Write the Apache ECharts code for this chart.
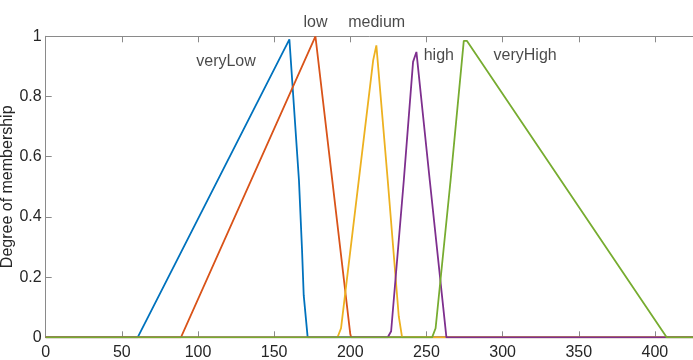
<!DOCTYPE html>
<html>
<head>
<meta charset="utf-8">
<script src="https://cdn.jsdelivr.net/npm/echarts@6/dist/echarts.min.js"></script>
<style>
  html, body { margin: 0; padding: 0; background: #fff; }
  #chart { width: 693px; height: 360px; }
</style>
</head>
<body>
<div id="chart"></div>
<script>
// Membership functions: vertices of each sampled curve (input value, degree)
const veryLowX = [0, 60.4, 160, 166.3, 168.3, 169.4, 172, 430];
const veryLowY = [0, 0, 0.99, 0.52, 0.29, 0.14, 0, 0];

const lowX = [0, 88.8, 177.1, 200, 200.6, 430];
const lowY = [0, 0, 1.0, 0.01, 0, 0];

const mediumX = [0, 191.6, 193.9, 215, 217.1, 224.6, 231.8, 234, 430];
const mediumY = [0, 0, 0.03, 0.92, 0.97, 0.52, 0.07, 0, 0];

const highX = [0, 224.6, 226.8, 235.1, 241.2, 243.4, 252.2, 263.1, 430];
const highY = [0, 0, 0.02, 0.52, 0.915, 0.948, 0.52, 0, 0];

const veryHighX = [0, 253.7, 256, 265.8, 274.5, 276.5, 407.7, 430];
const veryHighY = [0, 0, 0.03, 0.52, 0.985, 0.985, 0, 0];

// Curve names, written next to each curve
const mfNames = ['veryLow', 'low', 'medium', 'high', 'veryHigh'];
const mfLabelX = [118.4, 177.1, 217.3, 258.1, 314.8];
const mfLabelY = [0.915, 1.044, 1.044, 0.935, 0.935];

// Axis ranges and tick steps (the visible window ends at 425)
const xMin = 0, xMax = 425, xStep = 50;
const yMin = 0, yMax = 1, yStep = 0.2;
const yTitle = 'Degree of membership';

const colors = ['#0072BD', '#D95319', '#EDB120', '#7E2F8E', '#77AC30'];
const curves = [
  [veryLowX, veryLowY],
  [lowX, lowY],
  [mediumX, mediumY],
  [highX, highY],
  [veryHighX, veryHighY]
];

const axisGray = '#8a8a8a';
const textDark = '#262626';
const font = 'Liberation Sans, Arial, Helvetica, sans-serif';

const pair = (xs, ys) => xs.map((x, i) => [x, ys[i]]);

const lineSeries = curves.map((c, i) => ({
  name: mfNames[i],
  type: 'line',
  data: pair(c[0], c[1]),
  showSymbol: false,
  symbol: 'none',
  smooth: false,
  lineStyle: { color: colors[i], width: 1.8 },
  itemStyle: { color: colors[i] },
  silent: true,
  clip: true,
  z: 2 + i
}));

const labelSeries = {
  type: 'scatter',
  data: mfNames.map((n, i) => ({ value: [mfLabelX[i], mfLabelY[i]], name: n })),
  symbolSize: 1,
  itemStyle: { color: 'rgba(0,0,0,0)' },
  clip: false,
  silent: true,
  z: 10,
  label: {
    show: true,
    position: 'inside',
    formatter: p => p.name,
    color: '#1a1a1a',
    fontSize: 16,
    fontFamily: font
  }
};

const tickCommon = {
  show: true,
  inside: true,
  length: 6,
  lineStyle: { color: axisGray, width: 1 }
};
const lineCommon = { show: true, onZero: false, lineStyle: { color: axisGray, width: 1 } };

const chart = echarts.init(document.getElementById('chart'), null, { renderer: 'canvas' });
chart.setOption({
  animation: false,
  backgroundColor: '#ffffff',
  grid: {
    left: 45.7, right: 0, top: 36.3, bottom: 22.7,
    containLabel: false, outerBoundsMode: 'none'
  },
  xAxis: [
    {
      type: 'value', min: xMin, max: xMax, interval: xStep, position: 'bottom',
      axisLine: lineCommon,
      axisTick: tickCommon,
      splitLine: { show: false },
      axisLabel: {
        show: true, margin: 7, color: textDark, fontSize: 16, fontFamily: font,
        showMaxLabel: false,
        formatter: v => (v % xStep === 0 ? String(v) : '')
      }
    },
    {
      type: 'value', min: xMin, max: xMax, interval: xStep, position: 'top',
      axisLine: lineCommon,
      axisTick: tickCommon,
      splitLine: { show: false },
      axisLabel: { show: false }
    }
  ],
  yAxis: [
    {
      type: 'value', min: yMin, max: yMax, interval: yStep, position: 'left',
      name: yTitle, nameLocation: 'middle', nameGap: 30, nameMoveOverlap: false,
      nameTextStyle: { color: textDark, fontSize: 16, fontFamily: font },
      axisLine: lineCommon,
      axisTick: tickCommon,
      splitLine: { show: false },
      axisLabel: { show: true, margin: 4, color: textDark, fontSize: 16, fontFamily: font }
    }
  ],
  series: lineSeries.concat([labelSeries])
});
</script>
</body>
</html>
